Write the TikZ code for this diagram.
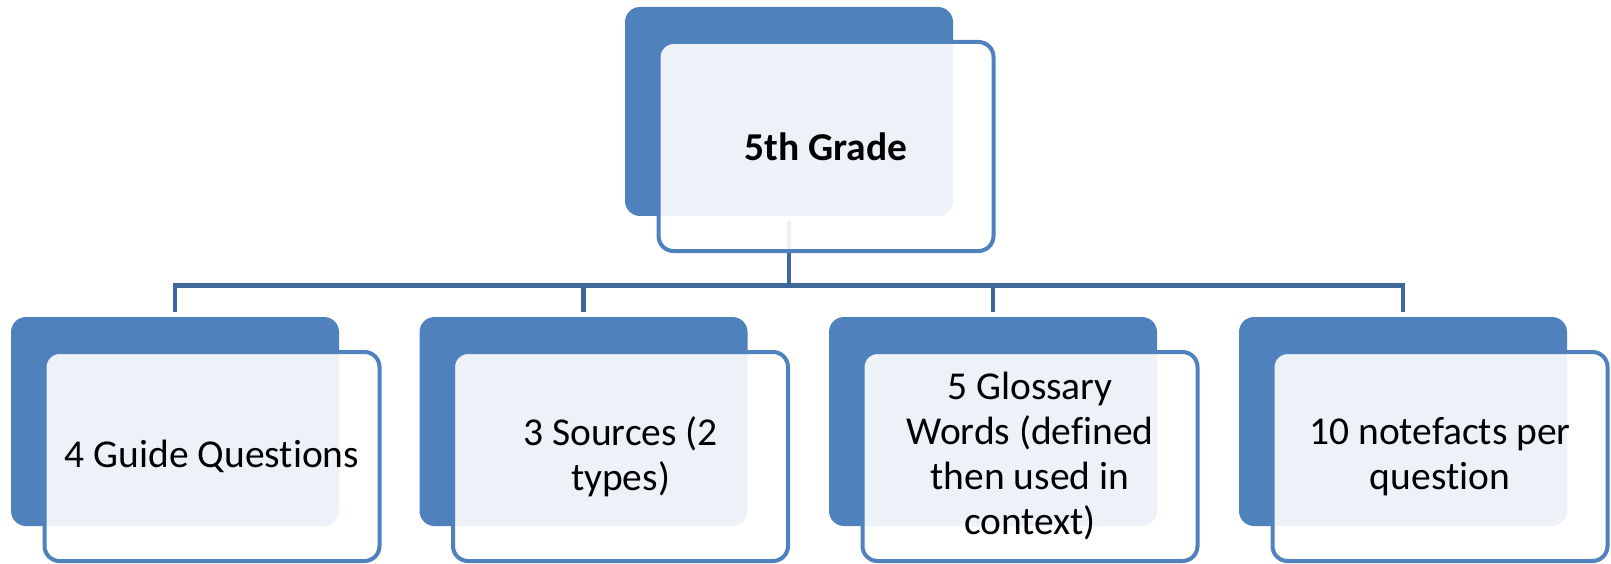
\documentclass[tikz,border=0pt]{standalone}
\usepackage{fontspec}
\setmainfont{Carlito}[Ligatures=NoCommon]
\usetikzlibrary{positioning}
\definecolor{accentblue}{HTML}{4F81BD}
\definecolor{linkblue}{HTML}{3F6898}
\newcommand{\boxfont}{\fontsize{39.5}{45}\selectfont}
\tikzset{
  backbox/.style={fill=accentblue, rounded corners=15pt, minimum width=328pt, minimum height=209pt, inner sep=0pt},
  frontbox/.style={draw=accentblue, line width=4pt, fill=white, fill opacity=0.9, text opacity=1, rounded corners=15pt,
    minimum width=335pt, minimum height=209pt, inner sep=0pt, align=center, font=\boxfont},
  link/.style={draw=linkblue, line width=4.5pt, shorten <=5pt, shorten >=5pt}
}
\begin{document}
\begin{tikzpicture}[x=1pt,y=-1pt]
\useasboundingbox (0,0) rectangle (1611,564);
% back plates
\node[backbox] (gradeback) at (789,111.5) {};
\node[backbox] (guideback) at (175,421.5) {};
\node[backbox] (sourceback) at (583.5,421.5) {};
\node[backbox] (wordback) at (993,421.5) {};
\node[backbox] (factback) at (1403,421.5) {};
% connectors
\coordinate (bus) at (789,285.5);
\foreach \c in {guideback,sourceback,wordback,factback}
  \draw[link] (gradeback.south) -- (gradeback.south |- bus) -| (\c.north);
% front boxes
\node[frontbox, font=\boxfont\bfseries] (grade) at ([shift={(37,35)}]gradeback.center) {5th Grade};
\node[frontbox] (guide) at ([shift={(37,35)}]guideback.center) {4 Guide Questions};
\node[frontbox] (source) at ([shift={(37,35)}]sourceback.center) {3 Sources (2\\types)};
\node[frontbox] (word) at ([shift={(37,35)}]wordback.center) {5 Glossary\\Words (defined\\then used in\\context)};
\node[frontbox] (fact) at ([shift={(37,35)}]factback.center) {10 notefacts per\\question};
\end{tikzpicture}
\end{document}
